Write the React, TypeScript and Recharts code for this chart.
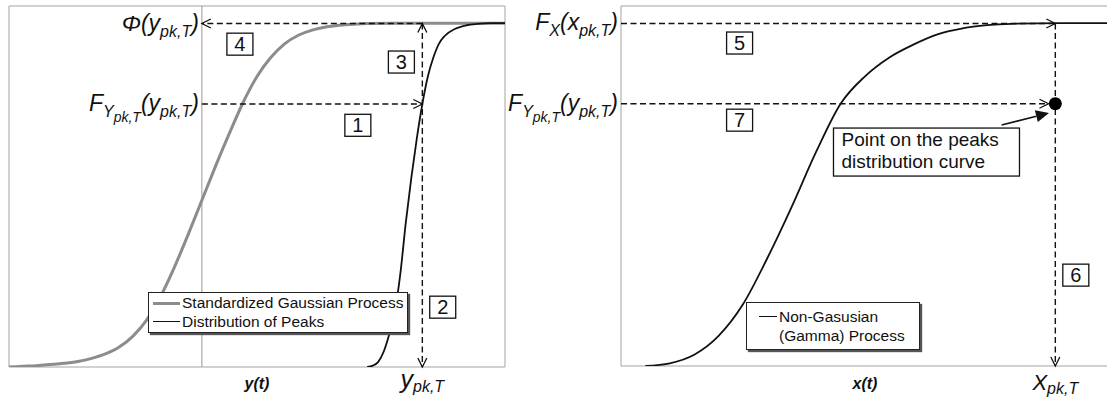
import React from 'react';
import {
  LineChart, Line, XAxis, YAxis, ReferenceLine, ReferenceDot, ReferenceArea, Legend,
} from 'recharts';

const FONT = '"Liberation Sans", Arial, Helvetica, sans-serif';
const INK = '#111';
const GREY = '#8c8c8c';
const FRAME = '#a3a3a3';

// left panel: standardized gaussian y(t) and the distribution of its peaks
const gaussY = [-3.5, -3.25, -3, -2.75, -2.5, -2.25, -2, -1.75, -1.5, -1.25, -1, -0.75, -0.5, -0.25, 0, 0.25, 0.5, 0.75, 1, 1.25, 1.5, 1.75, 2, 2.25, 2.5, 2.75, 3, 3.5, 5.5];
const gaussCdf = [0, 0.002, 0.004, 0.007, 0.011, 0.016, 0.025, 0.038, 0.058, 0.09, 0.137, 0.205, 0.29, 0.385, 0.485, 0.585, 0.68, 0.77, 0.845, 0.9, 0.94, 0.965, 0.98, 0.989, 0.994, 0.997, 0.999, 1, 1];

const peakY = [3.0, 3.1, 3.2, 3.3, 3.4, 3.5, 3.6, 3.7, 3.8, 3.9, 4.0, 4.1, 4.2, 4.3, 4.4, 4.6, 4.8, 5.0, 5.25, 5.5];
const peakCdf = [0, 0.004, 0.015, 0.045, 0.095, 0.16, 0.27, 0.42, 0.55, 0.665, 0.765, 0.845, 0.9, 0.94, 0.962, 0.984, 0.994, 0.998, 1, 1];

// right panel: non-gaussian (gamma) process x(t)
const gammaX = [0.5, 1, 1.5, 2, 2.5, 3, 3.5, 4, 4.5, 5, 5.5, 6, 6.5, 7, 7.5, 8, 9, 10];
const gammaCdf = [0, 0.008, 0.033, 0.088, 0.18, 0.315, 0.465, 0.625, 0.765, 0.845, 0.9, 0.938, 0.968, 0.985, 0.994, 0.998, 1, 1];

const Y_PK = 4.0;     // y_pk,T
const X_PK = 8.9;     // x_pk,T
const F_PK = 0.765;   // F_Ypk,T(y_pk,T)
const PHI_PK = 0.999; // Phi(y_pk,T) = F_X(x_pk,T)

const GAUSS_NAME = 'Standardized Gaussian Process';
const PEAK_NAME = 'Distribution of Peaks';
const GAMMA_NAME = 'Non-Gasusian (Gamma) Process';
const LEGEND_ORDER = [GAUSS_NAME, PEAK_NAME, GAMMA_NAME];

const gaussData = gaussY.map((x, i) => ({ x, v: gaussCdf[i] }));
const peakData = peakY.map((x, i) => ({ x, v: peakCdf[i] }));
const gammaData = gammaX.map((x, i) => ({ x, v: gammaCdf[i] }));

// dashed line with open chevron heads
const dashed = (heads: ('start' | 'end')[]) => (p: any) => {
  const { x1, y1, x2, y2 } = p;
  const chevron = (tx: number, ty: number, fx: number, fy: number, key: string) => {
    const a = Math.atan2(ty - fy, tx - fx);
    const L = 9, W = 4.5;
    const bx = tx - L * Math.cos(a), by = ty - L * Math.sin(a);
    const nx = -Math.sin(a) * W, ny = Math.cos(a) * W;
    return (
      <polyline key={key} points={`${bx + nx},${by + ny} ${tx},${ty} ${bx - nx},${by - ny}`}
        fill="none" stroke={INK} strokeWidth={1.3} />
    );
  };
  return (
    <g>
      <line x1={x1} y1={y1} x2={x2} y2={y2} stroke={INK} strokeWidth={1.4} strokeDasharray="6 3.5" />
      {heads.includes('end') && chevron(x2, y2, x1, y1, 'e')}
      {heads.includes('start') && chevron(x1, y1, x2, y2, 's')}
    </g>
  );
};

// solid pointer with a filled head
const pointer = (p: any) => {
  const { x1, y1, x2, y2 } = p;
  const a = Math.atan2(y2 - y1, x2 - x1);
  const L = 13, W = 6;
  const bx = x2 - L * Math.cos(a), by = y2 - L * Math.sin(a);
  const nx = -Math.sin(a) * W, ny = Math.cos(a) * W;
  return (
    <g>
      <line x1={x1} y1={y1} x2={bx} y2={by} stroke={INK} strokeWidth={1.6} />
      <polygon points={`${bx + nx},${by + ny} ${x2},${y2} ${bx - nx},${by - ny}`} fill={INK} />
    </g>
  );
};

const numBox = (label: string) => (p: any) => (
  <g>
    <rect x={p.cx - 13} y={p.cy - 11} width={26} height={22} fill="#fff" stroke={INK} strokeWidth={1.3} />
    <text x={p.cx} y={p.cy + 7} textAnchor="middle" fontSize={20} fontFamily={FONT} fill={INK}>{label}</text>
  </g>
);

const noteBox = (p: any) => (
  <g>
    <rect x={p.cx - 93} y={p.cy - 24} width={186} height={48} fill="#fff" stroke={INK} strokeWidth={1.3} />
    <text x={p.cx - 85} y={p.cy - 6} fontSize={19} fontFamily={FONT} fill={INK}>Point on the peaks</text>
    <text x={p.cx - 85} y={p.cy + 16} fontSize={19} fontFamily={FONT} fill={INK}>distribution curve</text>
  </g>
);

// math-style labels
const MathText = ({ x, y, kind }: { x: number; y: number; kind: string }) => {
  const common = { x, y, textAnchor: 'end' as const, fontFamily: FONT, fontStyle: 'italic', fill: INK, fontSize: 23 };
  if (kind === 'phi') {
    return (
      <text {...common}>
        Φ(y<tspan fontSize={16} dy={6}>pk,T</tspan><tspan dy={-6}>)</tspan>
      </text>
    );
  }
  if (kind === 'fx') {
    return (
      <text {...common}>
        F<tspan fontSize={16} dy={6}>X</tspan><tspan dy={-6}>(x</tspan><tspan fontSize={16} dy={6}>pk,T</tspan><tspan dy={-6}>)</tspan>
      </text>
    );
  }
  return (
    <text {...common}>
      F<tspan fontSize={16} dy={6}>Y</tspan><tspan fontSize={14} dy={5}>pk,T</tspan><tspan dy={-11}>(y</tspan><tspan fontSize={16} dy={6}>pk,T</tspan><tspan dy={-6}>)</tspan>
    </text>
  );
};

const leftLabel = (kind: string) => (p: any) => <MathText x={p.cx - 3} y={p.cy + 7} kind={kind} />;

const rightTick = (p: any) => (
  <MathText x={p.x + 5} y={p.y + 7} kind={p.payload.value > 0.9 ? 'fx' : 'fy'} />
);

const pkTick = (main: string, size: number, drop: number) => (p: any) => (
  <text x={p.x} y={p.y + drop} textAnchor="middle" fontFamily={FONT} fontStyle="italic" fontSize={size} fill={INK}>
    {main}<tspan fontSize={16} dy={4}>pk,T</tspan>
  </text>
);

const legendContent = (textWidth: number, sample: number, pad: string) => (props: any) => {
  const items = [...(props.payload || [])].sort(
    (a: any, b: any) => LEGEND_ORDER.indexOf(a.value) - LEGEND_ORDER.indexOf(b.value),
  );
  return (
    <div style={{
      border: '1px solid #222', background: '#fff', boxShadow: '2px 2px 1px #555',
      padding: pad, fontFamily: FONT, fontSize: 15.5, lineHeight: '19px', color: INK,
    }}>
      {items.map((e: any) => {
        const sw = e.value === GAUSS_NAME ? 3 : 1.8;
        return (
          <div key={e.value} style={{ display: 'flex', alignItems: 'flex-start' }}>
            <span style={{ width: sample, height: 0, borderTop: `${sw}px solid ${e.color}`, marginTop: 10 - sw / 2, marginRight: 2, flex: 'none' }} />
            <span style={{ width: textWidth }}>{e.value}</span>
          </div>
        );
      })}
    </div>
  );
};

const axisLabel = (value: string) => ({
  value, position: 'insideBottom' as const, offset: 9,
  fontSize: 16, fontWeight: 700, fontStyle: 'italic', fill: INK, fontFamily: FONT,
});

const LeftPanel = () => (
  <LineChart width={560} height={398} margin={{ top: 6, right: 55, bottom: 0, left: 9 }}>
    <XAxis type="number" dataKey="x" domain={[-3.5, 5.5]} allowDataOverflow ticks={[Y_PK]} interval={0}
      axisLine={false} tickLine={false} height={31} tick={pkTick('y', 25, 13)} label={axisLabel('y(t)')} />
    <YAxis type="number" domain={[0, 1.05]} allowDataOverflow hide />
    <ReferenceArea x1={-3.5} x2={5.5} y1={0} y2={1.05} fill="none" stroke={FRAME} strokeWidth={1} ifOverflow="visible" />
    <ReferenceLine x={0} stroke="#999" strokeWidth={1} />
    <Line data={gaussData} dataKey="v" name={GAUSS_NAME} type="monotone" stroke={GREY} strokeWidth={3}
      dot={false} isAnimationActive={false} />
    <Line data={peakData} dataKey="v" name={PEAK_NAME} type="monotone" stroke={INK} strokeWidth={1.8}
      dot={false} isAnimationActive={false} />
    <ReferenceLine segment={[{ x: 0, y: F_PK }, { x: Y_PK, y: F_PK }]} ifOverflow="visible" shape={dashed(['end'])} />
    <ReferenceLine segment={[{ x: Y_PK, y: PHI_PK }, { x: Y_PK, y: 0 }]} ifOverflow="visible" shape={dashed(['start', 'end'])} />
    <ReferenceLine segment={[{ x: Y_PK, y: PHI_PK }, { x: 0, y: PHI_PK }]} ifOverflow="visible" shape={dashed(['end'])} />
    <ReferenceDot x={0} y={PHI_PK} ifOverflow="visible" shape={leftLabel('phi')} />
    <ReferenceDot x={0} y={F_PK} ifOverflow="visible" shape={leftLabel('fy')} />
    <ReferenceDot x={0.69} y={0.939} shape={numBox('4')} />
    <ReferenceDot x={3.62} y={0.887} shape={numBox('3')} />
    <ReferenceDot x={2.83} y={0.703} shape={numBox('1')} />
    <ReferenceDot x={4.37} y={0.174} shape={numBox('2')} />
    <Legend layout="vertical" align="center" verticalAlign="middle"
      wrapperStyle={{ left: 148, top: 292, width: 260 }} content={legendContent(226, 27, '0px 2px 1px 4px')} />
  </LineChart>
);

const RightPanel = () => (
  <LineChart width={620} height={398} margin={{ top: 6, right: 11, bottom: 0, left: 0 }}>
    <XAxis type="number" dataKey="x" domain={[0, 10]} allowDataOverflow ticks={[X_PK]} interval={0}
      axisLine={false} tickLine={false} height={32} tick={pkTick('X', 22, 16)} label={axisLabel('x(t)')} />
    <YAxis type="number" domain={[0, 1.05]} allowDataOverflow ticks={[F_PK, PHI_PK]} interval={0}
      width={121} axisLine={false} tickLine={false} tick={rightTick} />
    <ReferenceArea x1={0} x2={10} y1={0} y2={1.05} fill="none" stroke={FRAME} strokeWidth={1} ifOverflow="visible" />
    <Line data={gammaData} dataKey="v" name={GAMMA_NAME} type="monotone" stroke={INK} strokeWidth={1.8}
      dot={false} isAnimationActive={false} />
    <ReferenceLine segment={[{ x: 0, y: PHI_PK }, { x: X_PK, y: PHI_PK }]} ifOverflow="visible" shape={dashed(['end'])} />
    <ReferenceLine segment={[{ x: 0, y: F_PK }, { x: X_PK - 0.14, y: F_PK }]} ifOverflow="visible" shape={dashed(['end'])} />
    <ReferenceLine segment={[{ x: X_PK, y: PHI_PK }, { x: X_PK, y: 0 }]} ifOverflow="visible" shape={dashed(['end'])} />
    <ReferenceDot x={X_PK} y={F_PK} r={6.5} fill="#000" stroke="none" />
    <ReferenceLine segment={[{ x: 7.8, y: 0.703 }, { x: 8.77, y: 0.738 }]} ifOverflow="visible" shape={pointer} />
    <ReferenceDot x={6.26} y={0.624} shape={noteBox} />
    <ReferenceDot x={2.43} y={0.942} shape={numBox('5')} />
    <ReferenceDot x={2.43} y={0.717} shape={numBox('7')} />
    <ReferenceDot x={9.32} y={0.265} shape={numBox('6')} />
    <Legend layout="vertical" align="center" verticalAlign="middle"
      wrapperStyle={{ left: 246, top: 302, width: 174 }} content={legendContent(132, 18, '4px 2px 4px 12px')} />
  </LineChart>
);

export default function App() {
  return (
    <div style={{ position: 'absolute', left: 0, top: 0, width: 1107, height: 398, overflow: 'hidden', background: '#fff' }}>
      <div style={{ position: 'absolute', left: 0, top: 0 }}>
        <LeftPanel />
      </div>
      <div style={{ position: 'absolute', left: 500, top: 0 }}>
        <RightPanel />
      </div>
    </div>
  );
}
